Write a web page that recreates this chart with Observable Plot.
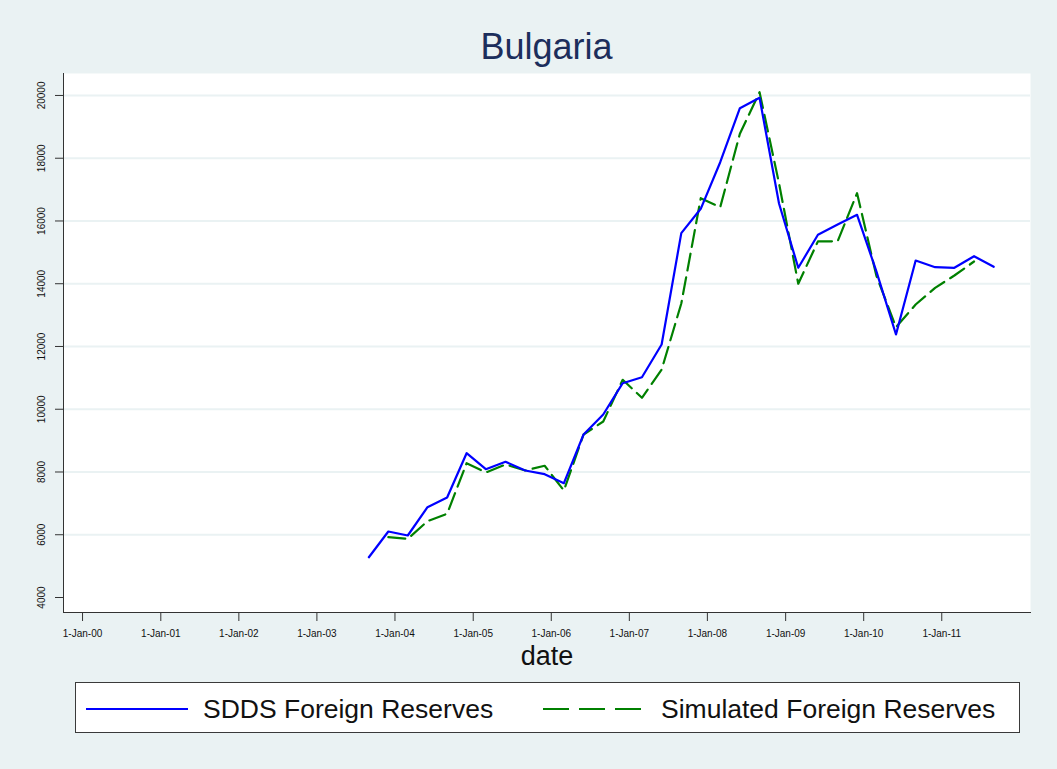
<!DOCTYPE html>
<html><head><meta charset="utf-8">
<script src="https://cdn.jsdelivr.net/npm/d3@7"></script>
<script src="https://cdn.jsdelivr.net/npm/@observablehq/plot@0.6"></script>
<style>
body{margin:0;background:#eaf2f3;font-family:"Liberation Sans",Arial,sans-serif;}
#wrap{position:relative;width:1057px;height:769px;background:#eaf2f3;overflow:hidden}
#title{position:absolute;left:63px;width:967px;top:29px;text-align:center;font-size:36px;color:#1c2e5c;line-height:36px}
#chart{position:absolute;left:0;top:0}
#legend{position:absolute;left:75px;top:682px;width:943px;height:49px;border:1px solid #3a3a3a;background:#fff}
</style></head>
<body>
<div id="wrap">
  <div id="title">Bulgaria</div>
  <div id="chart"></div>
  <div id="legend"></div>
</div>
<script>
const dates = ["2003-09-01","2003-12-01",
  "2004-03-01","2004-06-01","2004-09-01","2004-12-01",
  "2005-03-01","2005-06-01","2005-09-01","2005-12-01",
  "2006-03-01","2006-06-01","2006-09-01","2006-12-01",
  "2007-03-01","2007-06-01","2007-09-01","2007-12-01",
  "2008-03-01","2008-06-01","2008-09-01","2008-12-01",
  "2009-03-01","2009-06-01","2009-09-01","2009-12-01",
  "2010-03-01","2010-06-01","2010-09-01","2010-12-01",
  "2011-03-01","2011-06-01","2011-09-01"];
const sdds = [5284,6104,
  5976,6878,7187,8599,
  8089,8325,8048,7930,
  7643,9195,9832,10830,
  11021,12064,15611,16388,
  17873,19594,19925,16557,
  14508,15561,15888,16197,
  14400,12382,14740,14527,
  14508,14878,14540];
const simulated = [null,5922,
  5870,6432,6668,8280,
  7984,8239,8048,8198,
  7410,9195,9609,10938,
  10364,11260,13370,16726,
  16440,18779,20104,17200,
  14000,15350,15350,16886,
  14260,12615,13338,13870,
  14262,14708,null];
const yTicks = [4000,6000,8000,10000,12000,14000,16000,18000,20000];
const gridTicks = [6000,8000,10000,12000,14000,16000,18000,20000];
const xTickDates = ["2000-01-01","2001-01-01","2002-01-01","2003-01-01","2004-01-01","2005-01-01",
  "2006-01-01","2007-01-01","2008-01-01","2009-01-01","2010-01-01","2011-01-01"];
const seriesNames = ["SDDS Foreign Reserves","Simulated Foreign Reserves"];
const xAxisTitle = "date";

const rows = dates.map((d,i)=>({date:new Date(d+"T00:00:00Z"), sdds:sdds[i], sim:simulated[i]}));
const xTicks = xTickDates.map(d=>new Date(d+"T00:00:00Z"));
const fmt = d3.utcFormat("%-d-%b-%y");
const axisColor = "#333";

const chart = Plot.plot({
  width:1057, height:670,
  marginTop:73, marginLeft:63, marginRight:27, marginBottom:58,
  style:{background:"transparent", fontFamily:"'Liberation Sans', Arial, sans-serif", color:"#111"},
  x:{type:"utc", domain:[new Date("1999-10-04T00:00:00Z"), new Date("2012-02-20T00:00:00Z")]},
  y:{domain:[3522,20700]},
  marks:[
    Plot.frame({fill:"white", stroke:null}),
    Plot.gridY(gridTicks, {stroke:"#eaf2f3", strokeOpacity:1, strokeWidth:2}),
    Plot.axisY(yTicks, {tickSize:8, tickFormat:()=>"", label:null, stroke:axisColor}),
    Plot.text(yTicks, {y:d=>d, text:d=>String(d), frameAnchor:"left", dx:-22, rotate:-90,
      textAnchor:"middle", lineAnchor:"middle", fontSize:10, fill:"#111"}),
    Plot.axisX(xTicks, {tickSize:9, tickPadding:8, tickFormat:fmt, fontSize:10, label:null, stroke:axisColor}),
    Plot.frame({anchor:"left", stroke:axisColor}),
    Plot.frame({anchor:"bottom", stroke:axisColor}),
    Plot.lineY(rows, {x:"date", y:"sim", stroke:"#008000", strokeWidth:2.2, strokeDasharray:"17,7"}),
    Plot.lineY(rows, {x:"date", y:"sdds", stroke:"#0000ff", strokeWidth:2.2}),
    Plot.text([xAxisTitle], {text:d=>d, frameAnchor:"bottom", dy:44, lineAnchor:"middle", fontSize:27, fill:"#111"})
  ]
});
document.getElementById("chart").appendChild(chart);

const leg = d3.select("#legend").append("svg").attr("width",943).attr("height",49)
  .style("font-family","'Liberation Sans', Arial, sans-serif");
leg.append("line").attr("x1",10).attr("x2",112).attr("y1",26).attr("y2",26)
  .attr("stroke","#0000ff").attr("stroke-width",2.2);
leg.append("text").attr("x",127).attr("y",26).attr("dy","0.35em").attr("font-size",26.5)
  .attr("fill","#111").text(seriesNames[0]);
leg.append("line").attr("x1",467).attr("x2",565).attr("y1",26).attr("y2",26)
  .attr("stroke","#008000").attr("stroke-width",2.2).attr("stroke-dasharray","26,10");
leg.append("text").attr("x",585).attr("y",26).attr("dy","0.35em").attr("font-size",26.5)
  .attr("fill","#111").text(seriesNames[1]);
</script>
</body></html>
